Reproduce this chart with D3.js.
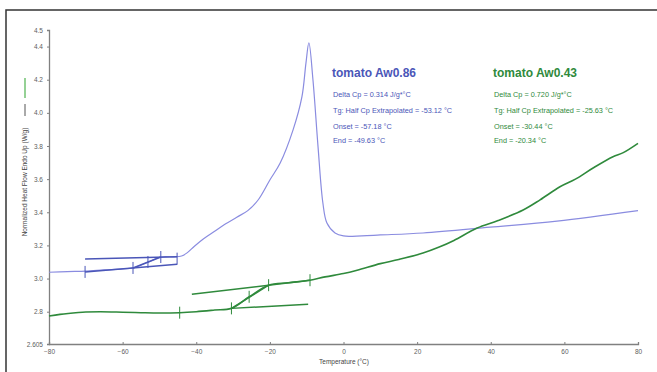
<!DOCTYPE html>
<html>
<head>
<meta charset="utf-8">
<script src="https://cdn.jsdelivr.net/npm/d3@7"></script>
<style>
  body { margin: 0; background: #fff; }
  svg { display: block; font-family: "Liberation Sans", Arial, sans-serif; }
</style>
</head>
<body>
<div id="chart"></div>
<script>
// DSC traces: [temperature °C, heat flow W/g]
const blueCurve = [
  [-80, 3.038], [-75, 3.042], [-70, 3.045], [-65, 3.052], [-60, 3.058], [-57.2, 3.064],
  [-53, 3.1], [-49.6, 3.13], [-46, 3.131], [-44, 3.136], [-42.5, 3.155], [-40.5, 3.195],
  [-38, 3.24], [-35, 3.285], [-32, 3.33], [-29, 3.37], [-26, 3.41],
  [-23.2, 3.474], [-20, 3.595], [-17.2, 3.697], [-13.7, 3.897], [-11.3, 4.096], [-10.2, 4.3],
  [-9.4, 4.423], [-8.3, 4.2], [-6.9, 3.79], [-5.6, 3.456], [-4.5, 3.335], [-2.3, 3.275],
  [0, 3.257], [5, 3.258], [10, 3.263], [21.6, 3.275], [39.8, 3.31], [58, 3.347], [80, 3.41]
];
const greenCurve = [
  [-80, 2.774], [-77, 2.784], [-72, 2.795], [-70, 2.798], [-66, 2.8], [-60, 2.797],
  [-55, 2.794], [-50, 2.792], [-44.5, 2.794], [-40, 2.8], [-35, 2.81], [-30.44, 2.82],
  [-25.6, 2.89], [-20.34, 2.96], [-15, 2.975], [-9.1, 2.99], [-5, 3.01], [0, 3.03],
  [3.7, 3.05], [10, 3.09], [15, 3.115], [21.6, 3.154], [26, 3.19], [30, 3.23],
  [36.3, 3.305], [42, 3.35], [48.8, 3.414], [53.4, 3.475], [58.8, 3.554], [63, 3.6],
  [67.8, 3.667], [73.2, 3.735], [76, 3.76], [80, 3.816]
];

// tangent construction lines
const blueTangents = [
  [[-70.2, 3.118], [-45.2, 3.132]],
  [[-70.2, 3.04], [-45.2, 3.087]],
  [[-57.18, 3.064], [-49.63, 3.13]]
];
const blueMarks = [[-70.2, 3.04], [-57.18, 3.064], [-53.12, 3.1], [-49.63, 3.13], [-45.2, 3.12]];
const greenTangents = [
  [[-41.2, 2.905], [-9.1, 2.99]],
  [[-30.44, 2.82], [-9.6, 2.845]],
  [[-30.44, 2.82], [-20.34, 2.96]]
];
const greenMarks = [[-44.5, 2.794], [-30.44, 2.82], [-25.63, 2.89], [-20.34, 2.96], [-9.1, 2.99]];

const xTicks = [-80, -60, -40, -20, 0, 20, 40, 60, 80];
const yTicks = [4.5, 4.4, 4.2, 4.0, 3.8, 3.6, 3.4, 3.2, 3.0, 2.8, 2.605];

const blueNotes = ["Delta Cp = 0.314 J/g*°C", "Tg: Half Cp Extrapolated = -53.12 °C",
                   "Onset = -57.18 °C", "End = -49.63 °C"];
const greenNotes = ["Delta Cp = 0.720 J/g*°C", "Tg: Half Cp Extrapolated = -25.63 °C",
                    "Onset = -30.44 °C", "End = -20.34 °C"];

const width = 657, height = 372;
const colors = { blue: "#8a8ce0", blueDark: "#4a56b8", green: "#2f8a3c", axis: "#808080", label: "#606060" };

const svg = d3.select("#chart").append("svg")
  .attr("width", width).attr("height", height);

// frame
svg.append("path")
  .attr("d", `M6,${height} L6,10 L${width},10`)
  .attr("fill", "none").attr("stroke", "#333").attr("stroke-width", 1.5);

const x = d3.scaleLinear().domain([-80, 80]).range([49, 638]);
const y = d3.scaleLinear().domain([2.605, 4.5]).range([344, 30]);

// axes
const xAxis = svg.append("g").attr("transform", "translate(0,344)")
  .call(d3.axisBottom(x).tickValues(xTicks).tickSize(-2).tickPadding(5).tickFormat(d3.format("d")));
const yAxis = svg.append("g").attr("transform", "translate(49,0)")
  .call(d3.axisLeft(y).tickValues(yTicks).tickSize(2).tickPadding(4)
    .tickFormat(d => d === 2.605 ? "2.605" : d3.format(".1f")(d)));
[xAxis, yAxis].forEach(g => {
  g.select(".domain").attr("stroke", colors.axis).attr("stroke-width", 1.3);
  g.selectAll(".tick line").attr("stroke", colors.axis);
  g.selectAll(".tick text").attr("fill", colors.label).attr("font-size", 6.5)
    .attr("font-family", "Liberation Sans, Arial, sans-serif");
});

svg.append("text").attr("x", 344).attr("y", 364).attr("text-anchor", "middle")
  .attr("font-size", 6.5).attr("fill", "#444").text("Temperature (°C)");

// y title with the legend strokes above it
svg.append("text").attr("transform", "translate(27,182) rotate(-90)")
  .attr("text-anchor", "middle").attr("font-size", 6.5).attr("fill", "#444")
  .text("Normalized Heat Flow Endo Up (W/g)");
svg.append("line").attr("x1", 25).attr("x2", 25).attr("y1", 78).attr("y2", 98)
  .attr("stroke", "#5cb85c").attr("stroke-width", 1.3);
svg.append("line").attr("x1", 25).attr("x2", 25).attr("y1", 104).attr("y2", 116)
  .attr("stroke", "#555").attr("stroke-width", 1);

const line = d3.line().x(d => x(d[0])).y(d => y(d[1]));
const smooth = d3.line().x(d => x(d[0])).y(d => y(d[1])).curve(d3.curveCatmullRom.alpha(0.5));

svg.append("path").datum(blueCurve).attr("d", smooth)
  .attr("fill", "none").attr("stroke", colors.blue).attr("stroke-width", 1.2);
svg.append("path").datum(greenCurve).attr("d", smooth)
  .attr("fill", "none").attr("stroke", colors.green).attr("stroke-width", 1.6);

const drawTangents = (segs, marks, color) => {
  svg.append("g").selectAll("path").data(segs).join("path")
    .attr("d", line).attr("fill", "none").attr("stroke", color).attr("stroke-width", 1.5);
  svg.append("g").selectAll("line").data(marks).join("line")
    .attr("x1", d => x(d[0])).attr("x2", d => x(d[0]))
    .attr("y1", d => y(d[1]) - 6).attr("y2", d => y(d[1]) + 6)
    .attr("stroke", color).attr("stroke-width", 1);
};
drawTangents(blueTangents, blueMarks, colors.blueDark);
drawTangents(greenTangents, greenMarks, colors.green);

// result annotations
const drawNotes = (x0, title, notes, color) => {
  svg.append("text").attr("x", x0).attr("y", 77).attr("font-size", 12).attr("font-weight", "bold")
    .attr("fill", color).text(title);
  svg.append("g").selectAll("text").data(notes).join("text")
    .attr("x", x0 + 1).attr("y", (d, i) => [97, 113, 129, 143][i])
    .attr("font-size", 7.3).attr("fill", color).text(d => d);
};
drawNotes(332, "tomato Aw0.86", blueNotes, colors.blueDark);
drawNotes(493, "tomato Aw0.43", greenNotes, colors.green);
</script>
</body>
</html>
